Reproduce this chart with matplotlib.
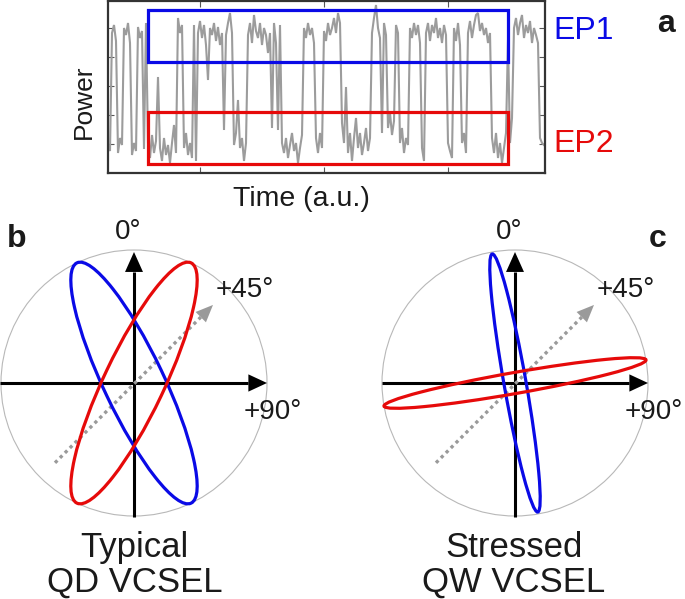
import numpy as np
import matplotlib
matplotlib.use('Agg')
import matplotlib.pyplot as plt
from matplotlib.patches import Ellipse, Circle, Rectangle, Polygon

plt.rcParams['font.family'] = ['Liberation Sans', 'DejaVu Sans']

W, H, DPI = 685, 599, 100

# ---------------- data: panel a (power trace, a.u.) ----------------
power = [
    28, 22, 140, 148, 132, 20, 35, 28, 145, 138, 150, 130, 18, 30, 22, 146, 135, 142, 24, 150,
    30, 15, 38, 20, 32, 96, 25, 12, 35, 18, 28, 10, 30, 48, 20, 155, 140, 148, 25, 40,
    18, 30, 15, 148, 12, 140, 152, 135, 148, 128, 93, 145, 138, 150, 132, 146, 128, 140, 43, 138,
    150, 160, 140, 28, 40, 73, 25, 35, 12, 30, 138, 150, 130, 158, 142, 135, 150, 128, 145, 138,
    120, 140, 45, 150, 130, 43, 148, 30, 20, 35, 15, 28, 40, 22, 30, 10, 25, 38, 145, 135,
    150, 138, 145, 130, 35, 20, 40, 25, 142, 132, 150, 138, 145, 155, 140, 160, 150, 50, 30, 86,
    20, 40, 12, 35, 55, 25, 40, 18, 30, 45, 22, 35, 140, 155, 168, 145, 135, 40, 150, 138,
    45, 60, 38, 52, 148, 140, 30, 45, 20, 35, 28, 145, 135, 150, 138, 148, 130, 25, 12, 140,
    150, 132, 148, 140, 155, 135, 145, 130, 148, 138, 30, 22, 15, 145, 132, 150, 128, 30, 40, 20,
    140, 152, 135, 148, 158, 160, 142, 150, 138, 145, 130, 140, 35, 20, 40, 15, 30, 10, 25, 40,
    133, 30, 55, 145, 155, 138, 150, 158, 135, 148, 140, 152, 130, 145, 138, 130, 35, 30, 28,
]
time = np.arange(len(power)) * 2 + 0.5
time_ticks = [92.5, 216.5, 340.5]
power_ticks = [29, 58, 87, 116, 145]
# EP windows: (time start, time end, power low, power high)
ep1_window = (40.0, 400.5, 111.0, 163.0)
ep2_window = (40.0, 400.5, 9.0, 61.0)

# ---------------- data: panels b, c (polarization ellipses) ----------------
# (semi-major, semi-minor, orientation in degrees), normalised to the unit circle
b_ep1 = (1.0, 0.226, 115.4)
b_ep2 = (1.0, 0.226, 64.6)
c_ep1 = (0.985, 0.083, 100.0)
c_ep2 = (1.0, 0.079, 10.0)

BLUE = '#0a0ae6'
RED = '#e60a0a'
GRAY = '#9c9c9c'
TXT = '#1a1a1a'

fig = plt.figure(figsize=(W / DPI, H / DPI), dpi=DPI)


def px(x, y):
    return x / W, 1 - y / H


def ax_box(l, t, r, b):
    return [l / W, 1 - b / H, (r - l) / W, (b - t) / H]


# ---------------- panel a ----------------
axa = fig.add_axes(ax_box(107.5, 0.8, 545, 173))
axa.plot(time, power, color=GRAY, lw=1.5, solid_joinstyle='miter')
axa.set_xlim(0, 437.5)
axa.set_ylim(0, 172.2)
axa.set_xticks(time_ticks)
axa.set_yticks(power_ticks)
axa.tick_params(direction='in', length=4, width=0.8, color='#555555',
                top=True, right=True, labelbottom=False, labelleft=False)
for s in axa.spines.values():
    s.set_linewidth(1.6)
    s.set_color('#333333')
for win, col in ((ep1_window, BLUE), (ep2_window, RED)):
    t0, t1, p0, p1 = win
    axa.add_patch(Rectangle((t0, p0), t1 - t0, p1 - p0, fill=False, ec=col, lw=2.3, zorder=3))

fig.text(*px(84, 102), 'Power', rotation=90, ha='center', va='center', fontsize=19, color=TXT)
fig.text(*px(301, 199), 'Time (a.u.)', ha='center', va='center', fontsize=20.5, color=TXT)
fig.text(*px(553, 39), 'EP1', ha='left', va='baseline', fontsize=23, color=BLUE)
fig.text(*px(553, 152), 'EP2', ha='left', va='baseline', fontsize=23, color=RED)
fig.text(*px(657, 32), 'a', ha='left', va='baseline', fontsize=23, fontweight='bold', color=TXT)


# ---------------- panels b, c ----------------
def arrow(ax, p0, p1, color, lw, hl, hw, ls='-', z=2):
    p0 = np.asarray(p0, float)
    p1 = np.asarray(p1, float)
    d = p1 - p0
    u = d / np.hypot(*d)
    n = np.array([-u[1], u[0]])
    base = p1 - u * hl
    ax.plot([p0[0], base[0]], [p0[1], base[1]], color=color, lw=lw, ls=ls,
            solid_capstyle='butt', dash_capstyle='butt', zorder=z)
    ax.add_patch(Polygon([p1, base + n * hw / 2, base - n * hw / 2], closed=True,
                         fc=color, ec='none', zorder=z))


R_PX = 133.0
HALF = 175.0


def polar_panel(cx, cy, ep1, ep2, left_end):
    ax = fig.add_axes(ax_box(cx - HALF, cy - HALF, cx + HALF, cy + HALF))
    lim = HALF / R_PX
    ax.set_xlim(-lim, lim)
    ax.set_ylim(-lim, lim)
    ax.axis('off')
    ax.add_patch(Circle((0, 0), 1.0, fill=False, ec='#b8b8b8', lw=0.8, zorder=1))
    arrow(ax, (0, -1.007), (0, 0.985), 'black', 2.2, 0.15, 0.135)
    arrow(ax, (left_end, 0), (1.0, 0), 'black', 2.2, 0.14, 0.13)
    arrow(ax, (-0.594, -0.60), (0.594, 0.587), '#9a9a9a', 2.4, 0.13, 0.11,
          ls=(0, (1, 1.1)), z=3)
    for (a, b, ang), col in ((ep1, BLUE), (ep2, RED)):
        ax.add_patch(Ellipse((0, 0), 2 * a, 2 * b, angle=ang, fill=False,
                             ec=col, lw=2.3, zorder=4))
    return ax


polar_panel(134, 383, b_ep1, b_ep2, -1.007)
polar_panel(515, 383, c_ep1, c_ep2, -1.0)

for cx in (134, 515):
    fig.text(*px(cx - 5.5, 239), '0°', ha='center', va='baseline', fontsize=20, color=TXT)
    fig.text(*px(cx + 82, 297), '+45°', ha='left', va='baseline', fontsize=20, color=TXT)
    fig.text(*px(cx + 110, 419), '+90°', ha='left', va='baseline', fontsize=20, color=TXT)

fig.text(*px(134, 557), 'Typical', ha='center', va='baseline', fontsize=25, color=TXT)
fig.text(*px(135, 592), 'QD VCSEL', ha='center', va='baseline', fontsize=25, color=TXT)
fig.text(*px(514, 557), 'Stressed', ha='center', va='baseline', fontsize=25, color=TXT)
fig.text(*px(514, 592), 'QW VCSEL', ha='center', va='baseline', fontsize=25, color=TXT)

fig.text(*px(7, 247), 'b', ha='left', va='baseline', fontsize=23, fontweight='bold', color=TXT)
fig.text(*px(649, 247), 'c', ha='left', va='baseline', fontsize=23, fontweight='bold', color=TXT)

fig.savefig('out.png', dpi=DPI)
